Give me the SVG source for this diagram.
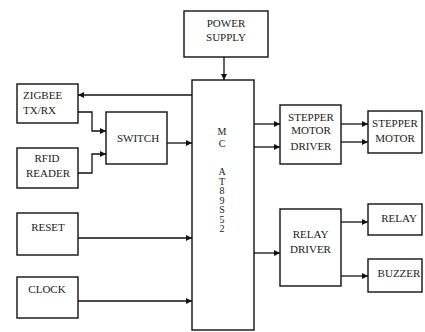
<svg xmlns="http://www.w3.org/2000/svg" width="425" height="332" viewBox="0 0 425 332">
<style>
.box{fill:#fff;stroke:#111;stroke-width:1.4}
.t{font-family:"Liberation Serif","Times New Roman",serif;font-size:11px;fill:#1a1a1a;text-anchor:middle}
.tl{text-anchor:start}
.v{font-size:10px}
.c{fill:none;stroke:#111;stroke-width:1.3}
</style>
<defs>
<marker id="ah" markerUnits="userSpaceOnUse" markerWidth="7" markerHeight="7" refX="6" refY="3" orient="auto">
<path d="M0,0 L6,3 L0,6 Z" fill="#111"/>
</marker>
</defs>
<rect width="425" height="332" fill="#fff"/>
<g id="power-supply"><rect class="box" x="184" y="11" width="84" height="46"/><text class="t" x="226" y="27">POWER</text><text class="t" x="226" y="41">SUPPLY</text></g>
<g id="mc"><rect class="box" x="192" y="80" width="62" height="250"/>
<text class="t v" x="222" y="135">M<tspan x="222" y="147">C</tspan></text>
<text class="t v" x="222" y="175">A<tspan x="222" y="184.5">T</tspan><tspan x="222" y="194">8</tspan><tspan x="222" y="203.5">9</tspan><tspan x="222" y="213">S</tspan><tspan x="222" y="222.5">5</tspan><tspan x="222" y="232">2</tspan></text></g>
<g id="zigbee"><rect class="box" x="17" y="84" width="61" height="39"/><text class="t tl" x="23" y="99">ZIGBEE</text><text class="t tl" x="23" y="114">TX/RX</text></g>
<g id="switch"><rect class="box" x="106" y="112" width="61" height="52"/><text class="t" x="138" y="142">SWITCH</text></g>
<g id="rfid"><rect class="box" x="17" y="148" width="61" height="40"/><text class="t" x="47" y="162">RFID</text><text class="t" x="48" y="177">READER</text></g>
<g id="reset"><rect class="box" x="17" y="213" width="61" height="42"/><text class="t" x="48" y="231">RESET</text></g>
<g id="clock"><rect class="box" x="17" y="277" width="61" height="41"/><text class="t" x="47" y="293">CLOCK</text></g>
<g id="stepper-driver"><rect class="box" x="280" y="105" width="61" height="59"/><text class="t" x="311" y="121">STEPPER</text><text class="t" x="311" y="134">MOTOR</text><text class="t" x="311" y="150">DRIVER</text></g>
<g id="stepper-motor"><rect class="box" x="368" y="111" width="54" height="42"/><text class="t" x="395" y="127">STEPPER</text><text class="t" x="395" y="142">MOTOR</text></g>
<g id="relay-driver"><rect class="box" x="280" y="209" width="61" height="77"/><text class="t" x="310.5" y="238">RELAY</text><text class="t" x="310.5" y="253">DRIVER</text></g>
<g id="relay"><rect class="box" x="368" y="204" width="54" height="31"/><text class="t" x="399" y="222">RELAY</text></g>
<g id="buzzer"><rect class="box" x="368" y="259" width="54" height="33"/><text class="t" x="399" y="277">BUZZER</text></g>
<g id="connectors">
<path class="c" d="M224,57 V80" marker-end="url(#ah)"/>
<path class="c" d="M192,95 H78" marker-end="url(#ah)"/>
<path class="c" d="M78,112 H92 V131 H106" marker-end="url(#ah)"/>
<path class="c" d="M78,173 H92 V154 H106" marker-end="url(#ah)"/>
<path class="c" d="M167,143 H192" marker-end="url(#ah)"/>
<path class="c" d="M78,238 H192" marker-end="url(#ah)"/>
<path class="c" d="M78,301 H192" marker-end="url(#ah)"/>
<path class="c" d="M254,124 H280" marker-end="url(#ah)"/>
<path class="c" d="M254,147 H280" marker-end="url(#ah)"/>
<path class="c" d="M341,124 H368" marker-end="url(#ah)"/>
<path class="c" d="M341,142 H368" marker-end="url(#ah)"/>
<path class="c" d="M254,253 H280" marker-end="url(#ah)"/>
<path class="c" d="M341,222 H368" marker-end="url(#ah)"/>
<path class="c" d="M341,276 H368" marker-end="url(#ah)"/>
</g>
</svg>
